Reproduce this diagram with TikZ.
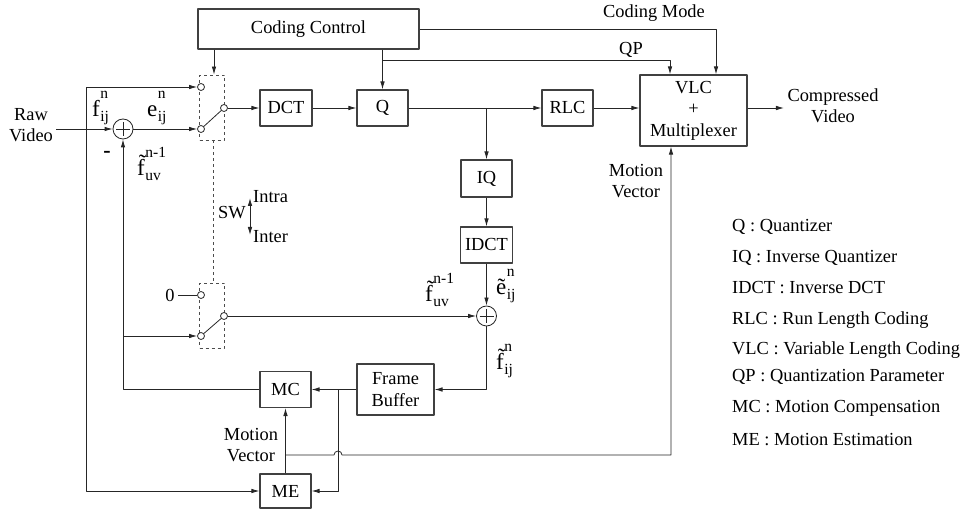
\documentclass[tikz,border=0pt]{standalone}
\usepackage{fontspec}
\setmainfont{Liberation Serif}
\usetikzlibrary{arrows.meta,calc}
% symbol with stacked super- and subscript
\newcommand{\lbsym}[3]{#1\kern0.5pt\raisebox{-5pt}{\fontsize{15.5}{23.5}\selectfont\begin{tabular}[b]{@{}l@{}}#2\\#3\end{tabular}}}
\tikzset{
  blk/.style={draw=black!75, line width=1.1pt, inner sep=2pt},
  swbox/.style={draw=black!70, dashed, line width=0.9pt, minimum width=25pt, minimum height=65pt, inner sep=0pt},
  port/.style={circle, draw=black!85, fill=white, line width=0.8pt, minimum size=7pt, inner sep=0pt},
  sumnode/.style={circle, draw=black!85, line width=0.8pt, minimum size=20pt, inner sep=0pt,
    path picture={\draw[line width=0.8pt] ([yshift=7pt]path picture bounding box.center) -- ([yshift=-7pt]path picture bounding box.center)
      ([xshift=-7pt]path picture bounding box.center) -- ([xshift=7pt]path picture bounding box.center);}},
  lbl/.style={font=\fontsize{23}{25}\selectfont, inner sep=0pt, anchor=base west},
  wire/.style={draw=black!85, line width=0.8pt}
}
\begin{document}
\begin{tikzpicture}[x=1pt, y=-1pt, font=\fontsize{18.4}{21.5}\selectfont, line join=round, >={Latex[length=8pt,width=4.5pt]}]
\useasboundingbox (0,0) rectangle (964,510);
% blocks
\node[blk, minimum width=221pt, minimum height=40pt] (ctrl) at (308.5,29) {Coding Control};
\node[blk, minimum width=52pt, minimum height=36pt] (dct) at (286,108) {DCT};
\node[blk, minimum width=51pt, minimum height=36pt] (q) at (382.5,108) {Q};
\node[blk, minimum width=51pt, minimum height=36pt] (rlc) at (567.5,108) {RLC};
\node[blk, minimum width=107pt, minimum height=71pt, align=center] (vlc) at (693.5,110.5) {VLC\\+\\Multiplexer};
\node[blk, minimum width=51pt, minimum height=37pt] (iq) at (486.5,178.5) {IQ};
\node[blk, minimum width=52pt, minimum height=36pt] (idct) at (486.5,245) {IDCT};
\node[blk, minimum width=77pt, minimum height=51pt, align=center] (fb) at (395.5,389.5) {Frame\\Buffer};
\node[blk, minimum width=51pt, minimum height=36pt] (mc) at (285.5,389.5) {MC};
\node[blk, minimum width=51pt, minimum height=34pt] (me) at (285.5,491) {ME};
\node[sumnode] (s1) at (123,129) {};
\node[sumnode] (s2) at (486.5,316) {};
% switches
\node[swbox] (swa) at (212,107.5) {};
\node[swbox] (swb) at (212,315.5) {};
\node[port] (a1) at (201,87) {};
\node[port] (a2) at (201,129) {};
\node[port] (a3) at (224,108) {};
\node[port] (b1) at (201,295) {};
\node[port] (b2) at (201,336) {};
\node[port] (b3) at (224,316) {};
\draw[wire] (a2) -- (a3);
\draw[wire] (b2) -- (b3);
\draw[draw=black!70, dashed, line width=0.9pt] ([xshift=1pt]swa.south) -- ([xshift=1pt]swb.north);
\node (sw) at (232,213) {SW};
\coordinate (swtop) at (250,198);
\coordinate (swbot) at (250,235);
\draw[wire, <->] (swtop) -- (swbot);
\node[anchor=west, inner sep=1pt] (intra) at (252,197) {Intra};
\node[anchor=west, inner sep=1pt] (inter) at (252,237) {Inter};
% texts
\node[align=center] (raw) at (31,125) {Raw\\Video};
\node[align=center] (out) at (833,106) {Compressed\\Video};
\node (cmode) at (654,13) {Coding Mode};
\node (qplbl) at (631,50) {QP};
\node[align=center] (mvr) at (636,181) {Motion\\Vector};
\node[align=center] (mvl) at (251,445) {Motion\\Vector};
\node (zero) at (170,295) {0};
\node[lbl] (fin) at (92,117) {\lbsym{f}{n}{ij}};
\node[lbl] (err) at (147,117) {\lbsym{e}{n}{ij}};
\node[font=\fontsize{22}{24}\selectfont\bfseries, inner sep=0pt] (minus) at (107,154) {-};
\node[lbl] (pred1) at (137,176) {\lbsym{\~{f}}{n-1}{uv}};
\node[lbl] (pred2) at (425,302) {\lbsym{\~{f}}{n-1}{uv}};
\node[lbl] (rerr) at (496,295) {\lbsym{\~{e}}{n}{ij}};
\node[lbl] (rec) at (496,370) {\lbsym{\~{f}}{n}{ij}};
% legend
\foreach \t/\y [count=\i] in {Q : Quantizer/227, IQ : Inverse Quantizer/258, IDCT : Inverse DCT/288,
  RLC : Run Length Coding/320, VLC : Variable Length Coding/350, QP : Quantization Parameter/377,
  MC : Motion Compensation/408, ME : Motion Estimation/440}
  \node[anchor=west, inner sep=0pt] (leg\i) at (732,\y) {\t};
% forward path
\coordinate (tap) at (86,129);
\draw[wire, ->] (raw.east |- s1) -- (s1);
\draw[wire, ->] (tap) |- (a1);
\draw[wire, ->] (tap) |- (me);
\draw[wire, ->] (s1) -- (a2);
\draw[wire, ->] (a3) -- (dct);
\draw[wire, ->] (dct) -- (q);
\draw[wire, ->] (q) -- (rlc);
\coordinate (br1) at (iq |- q);
\draw[wire, ->] (br1) -- (iq);
\draw[wire, ->] (rlc) -- (rlc -| vlc.west);
\draw[wire, ->] (vlc.east |- rlc) -- (out.west |- rlc);
% control
\draw[wire, ->] (ctrl.south -| 214,0) -- (swa.north -| 214,0);
\draw[wire, ->] (ctrl.south -| q) -- (q);
\coordinate (qptap) at (383,60);
\draw[wire, ->] (qptap) -| ([xshift=-23.5pt]vlc.north);
\draw[wire, ->] (ctrl.east) -| ([xshift=22.5pt]vlc.north);
% reconstruction loop
\draw[wire, ->] (iq) -- (idct);
\draw[wire, ->] (idct) -- (s2);
\draw[wire, ->] (b3) -- (s2);
\draw[wire, ->] (s2) |- (fb);
\draw[wire, ->] (fb) -- (mc);
\coordinate (br2) at (338,389.5);
\draw[wire, ->] (br2) |- (me);
\draw[wire, ->] (me) -- (mc);
\coordinate (mv) at (285.5,455);
\draw[wire, ->] (mv) -- ($(br2 |- mv)+(-4,0)$) arc[start angle=180, end angle=0, radius=4pt] -| ([xshift=-22.5pt]vlc.south);
\draw[wire, ->] (mc) -| (s1);
\coordinate (br3) at (s1 |- b2);
\draw[wire, ->] (br3) -- (b2);
\draw[wire] (zero) -- (b1);
\end{tikzpicture}
\end{document}
